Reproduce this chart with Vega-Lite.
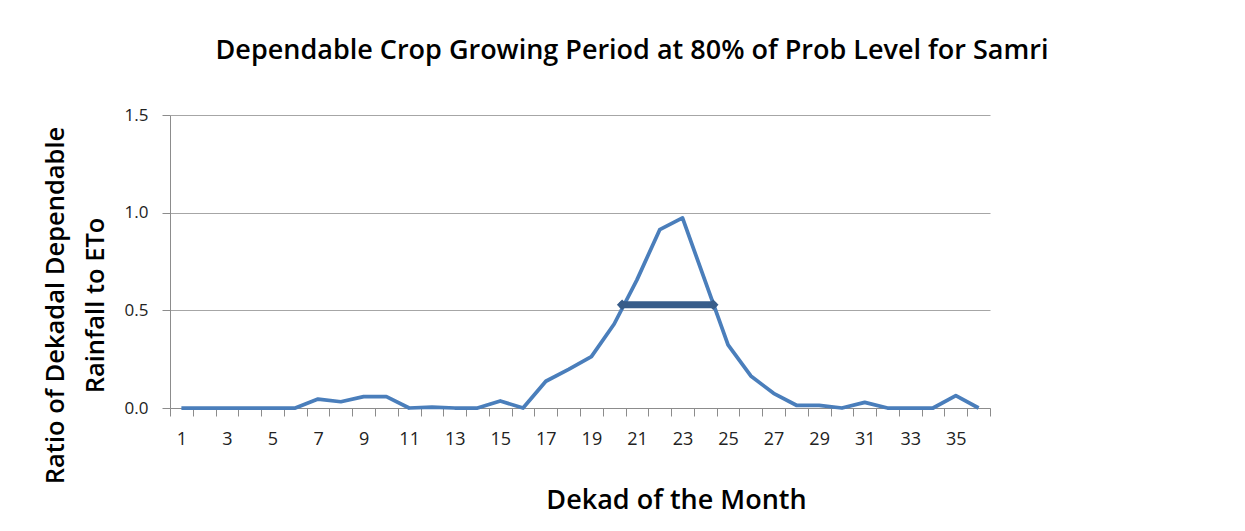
{
  "$schema": "https://vega.github.io/schema/vega-lite/v6.json",
  "width": 820,
  "height": 293,
  "autosize": {"type": "none"},
  "padding": {"left": 170, "top": 115, "right": 255, "bottom": 123},
  "background": "white",
  "config": {"view": {"stroke": null}, "font": "Open Sans"},
  "title": {
    "text": "Dependable Crop Growing Period at 80% of Prob Level for Samri",
    "anchor": "middle",
    "frame": "group",
    "dx": 52,
    "offset": 41,
    "fontSize": 27,
    "fontWeight": 600,
    "color": "#000000",
    "font": "Open Sans"
  },
  "datasets": {
    "series": [
      {"dekad": 1, "ratio": 0}, {"dekad": 2, "ratio": 0}, {"dekad": 3, "ratio": 0},
      {"dekad": 4, "ratio": 0}, {"dekad": 5, "ratio": 0}, {"dekad": 6, "ratio": 0},
      {"dekad": 7, "ratio": 0.046}, {"dekad": 8, "ratio": 0.032}, {"dekad": 9, "ratio": 0.058},
      {"dekad": 10, "ratio": 0.058}, {"dekad": 11, "ratio": 0}, {"dekad": 12, "ratio": 0.005},
      {"dekad": 13, "ratio": 0}, {"dekad": 14, "ratio": 0}, {"dekad": 15, "ratio": 0.036},
      {"dekad": 16, "ratio": 0}, {"dekad": 17, "ratio": 0.137}, {"dekad": 18, "ratio": 0.198},
      {"dekad": 19, "ratio": 0.263}, {"dekad": 20, "ratio": 0.43}, {"dekad": 21, "ratio": 0.656},
      {"dekad": 22, "ratio": 0.913}, {"dekad": 23, "ratio": 0.973}, {"dekad": 24, "ratio": 0.648},
      {"dekad": 25, "ratio": 0.323}, {"dekad": 26, "ratio": 0.164}, {"dekad": 27, "ratio": 0.075},
      {"dekad": 28, "ratio": 0.014}, {"dekad": 29, "ratio": 0.014}, {"dekad": 30, "ratio": 0},
      {"dekad": 31, "ratio": 0.029}, {"dekad": 32, "ratio": 0}, {"dekad": 33, "ratio": 0},
      {"dekad": 34, "ratio": 0}, {"dekad": 35, "ratio": 0.063}, {"dekad": 36, "ratio": 0}
    ],
    "period": [
      {"dekad": 20.35, "ratio": 0.528},
      {"dekad": 24.35, "ratio": 0.528}
    ]
  },
  "layer": [
    {
      "data": {"name": "series"},
      "mark": {"type": "line", "color": "#4A7EBB", "strokeWidth": 3.75, "strokeJoin": "round"},
      "encoding": {
        "x": {
          "field": "dekad",
          "type": "quantitative",
          "scale": {"domain": [0.5, 36.5], "nice": false, "zero": false},
          "axis": {
            "title": "Dekad of the Month",
            "titleFontSize": 27,
            "titleFontWeight": 600,
            "titleColor": "#000000",
            "titleX": 506,
            "titleY": 100,
            "titleBaseline": "alphabetic",
            "titleAnchor": null,
            "titleAlign": "center",
            "tickCount": 200,
            "values": [0.5, 1, 1.5, 2.5, 3, 3.5, 4.5, 5, 5.5, 6.5, 7, 7.5, 8.5, 9, 9.5, 10.5, 11, 11.5, 12.5, 13, 13.5, 14.5, 15, 15.5, 16.5, 17, 17.5, 18.5, 19, 19.5, 20.5, 21, 21.5, 22.5, 23, 23.5, 24.5, 25, 25.5, 26.5, 27, 27.5, 28.5, 29, 29.5, 30.5, 31, 31.5, 32.5, 33, 33.5, 34.5, 35, 35.5, 36.5],
            "labelExpr": "datum.value % 2 == 1 ? format(datum.value, 'd') : ''",
            "labelOverlap": false,
            "labelFontSize": 18,
            "labelColor": "#222222",
            "labelPadding": 14,
            "tickSize": 8,
            "tickColor": "#8C8C8C",
            "tickOpacity": {"condition": {"test": "datum.value % 1 == 0", "value": 0}, "value": 1},
            "domainColor": "#8C8C8C",
            "domainWidth": 1,
            "grid": false
          }
        },
        "y": {
          "field": "ratio",
          "type": "quantitative",
          "scale": {"domain": [0, 1.5], "nice": false},
          "axis": {
            "title": ["Ratio of Dekadal Dependable", "Rainfall to ETo"],
            "titleFontSize": 25.5,
            "titleFontWeight": 600,
            "titleColor": "#000000",
            "titleLineHeight": 40,
            "titleX": -115,
            "titleY": 190,
            "titleBaseline": "middle",
            "titleAnchor": null,
            "titleAlign": "center",
            "titleAngle": -90,
            "values": [0, 0.5, 1, 1.5],
            "format": ".1f",
            "labelFontSize": 17,
            "labelColor": "#222222",
            "labelPadding": 14,
            "tickSize": 8,
            "tickColor": "#8C8C8C",
            "domainColor": "#8C8C8C",
            "grid": true,
            "gridColor": "#A6A6A6",
            "gridWidth": 1
          }
        }
      }
    },
    {
      "data": {"name": "period"},
      "mark": {"type": "line", "color": "#385D8A", "strokeWidth": 7, "strokeCap": "round"},
      "encoding": {
        "x": {"field": "dekad", "type": "quantitative"},
        "y": {"field": "ratio", "type": "quantitative"}
      }
    },
    {
      "data": {"name": "period"},
      "mark": {"type": "point", "shape": "diamond", "filled": true, "color": "#385D8A", "size": 110, "opacity": 1},
      "encoding": {
        "x": {"field": "dekad", "type": "quantitative"},
        "y": {"field": "ratio", "type": "quantitative"}
      }
    }
  ]
}
